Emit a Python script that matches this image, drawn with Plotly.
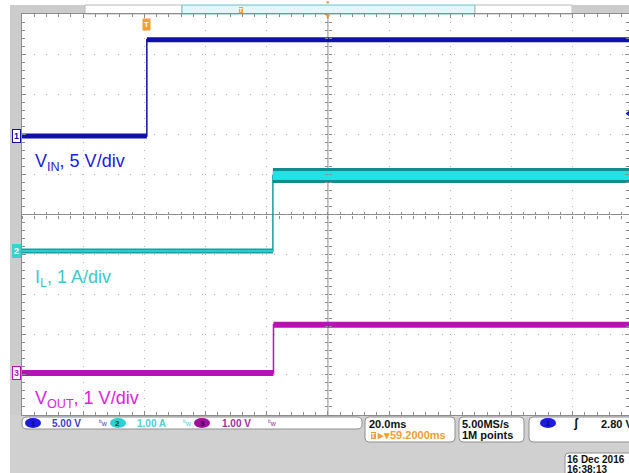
import plotly.graph_objects as go

# ---------------- data ----------------
channel_ids = ["1", "2", "3"]
channel_labels = ["V<sub>IN</sub>, 5 V/div", "I<sub>L</sub>, 1 A/div", "V<sub>OUT</sub>, 1 V/div"]
units_per_div = [5.0, 1.0, 1.0]          # V/div, A/div, V/div
offset_div = [1.96, -0.91, -3.95]        # ground marker position (divisions)
edge_ms = [0.0, 41.2, 41.4]              # time of the step
low_level = [0.0, 0.0, 0.0]
high_level = [12.0, 1.88, 1.2]
readouts = ["5.00 V", "1.00 A", "1.00 V"]

time_window_ms = [-40.8, 157.6]
ms_per_div = 20.0
h_delay_ms = 59.2
trigger_level_v = 2.80
timebase_text = "20.0ms"
delay_text = "59.2000ms"
sample_rate_text = "5.00MS/s"
record_text = "1M points"
trigger_text = "2.80 V"
date_text = "16 Dec 2016"
clock_text = "16:38:13"

# ---------------- styling ----------------
W, H = 629, 473
PL, PT, PR, PB = 22, 14, 629, 415          # plot area in pixels


def fx(px):
    return (px - PL) / (PR - PL)


def fy(py):
    return (PB - py) / (PB - PT)


trace_color = ["#1010a8", "#15a0a0", "#b414b4"]
label_color = ["#2020e0", "#3cc8cc", "#e020e0"]
readout_color = ["#3c3cc8", "#50d0d0", "#a030a0"]
chip_color = ["#1a1ae0", "#30d0d0", "#a010a0"]
ORANGE = "#f0a030"
GRID = "#b4b4b4"
AXIS = "#8c8c8c"
PANEL = "#cccccc"
FONT = "Liberation Sans"

fig = go.Figure()

for i in range(3):
    lo = offset_div[i] + low_level[i] / units_per_div[i]
    hi = offset_div[i] + high_level[i] / units_per_div[i]
    t0, t1, te = time_window_ms[0], time_window_ms[1], edge_ms[i]
    fig.add_trace(go.Scatter(x=[t0, te, t1], y=[lo, hi, hi], mode="lines",
                             line=dict(color=trace_color[i], width=1.5, shape="hv"),
                             hoverinfo="skip", showlegend=False))
    if i == 1:
        fig.add_trace(go.Scatter(x=[t0, te], y=[lo, lo], mode="lines",
                                 line=dict(color="#14a0a0", width=5),
                                 hoverinfo="skip", showlegend=False))
        fig.add_trace(go.Scatter(x=[t0, te], y=[lo, lo], mode="lines",
                                 line=dict(color="#3ad8d8", width=1.5),
                                 hoverinfo="skip", showlegend=False))
        fig.add_trace(go.Scatter(x=[te, t1], y=[hi, hi], mode="lines",
                                 line=dict(color="#128c8c", width=15),
                                 hoverinfo="skip", showlegend=False))
        fig.add_trace(go.Scatter(x=[te, t1], y=[hi, hi], mode="lines",
                                 line=dict(color="#1ee4e4", width=9),
                                 hoverinfo="skip", showlegend=False))
    else:
        fig.add_trace(go.Scatter(x=[t0, te, None, te, t1], y=[lo, lo, None, hi, hi],
                                 mode="lines",
                                 line=dict(color=trace_color[i], width=5 if i == 0 else 6),
                                 hoverinfo="skip", showlegend=False))

# trigger level marker on the right edge
fig.add_trace(go.Scatter(x=[time_window_ms[1]], y=[offset_div[0] + trigger_level_v / units_per_div[0]],
                         mode="markers", marker=dict(symbol="triangle-left", size=7, color="#1a1ae0"),
                         cliponaxis=False, hoverinfo="skip", showlegend=False))

# empty traces so the centre-crosshair tick axes are drawn
for xa, ya in [("x2", "y"), ("x3", "y"), ("x", "y2"), ("x", "y3")]:
    fig.add_trace(go.Scatter(x=[], y=[], xaxis=xa, yaxis=ya, hoverinfo="skip", showlegend=False))

center_ms = h_delay_ms
shapes = []
ann = []


def rect(x0, y0, x1, y1, fill, line=None, lw=1):
    shapes.append(dict(type="rect", xref="paper", yref="paper",
                       x0=fx(x0), x1=fx(x1), y0=fy(y1), y1=fy(y0),
                       fillcolor=fill, line=dict(color=line or fill, width=lw if line else 0),
                       layer="below"))


def rrect(x0, y0, x1, y1, r, fill, line):
    p = (f"M {fx(x0 + r)},{fy(y0)} L {fx(x1 - r)},{fy(y0)} Q {fx(x1)},{fy(y0)} {fx(x1)},{fy(y0 + r)} "
         f"L {fx(x1)},{fy(y1 - r)} Q {fx(x1)},{fy(y1)} {fx(x1 - r)},{fy(y1)} "
         f"L {fx(x0 + r)},{fy(y1)} Q {fx(x0)},{fy(y1)} {fx(x0)},{fy(y1 - r)} "
         f"L {fx(x0)},{fy(y0 + r)} Q {fx(x0)},{fy(y0)} {fx(x0 + r)},{fy(y0)} Z")
    shapes.append(dict(type="path", xref="paper", yref="paper", path=p,
                       fillcolor=fill, line=dict(color=line, width=1)))


def ellipse(x0, y0, x1, y1, fill):
    shapes.append(dict(type="circle", xref="paper", yref="paper",
                       x0=fx(x0), x1=fx(x1), y0=fy(y1), y1=fy(y0),
                       fillcolor=fill, line=dict(width=0)))


def text(x, y, s, color="#000000", size=11, anchor="left", bold=True, bg=None, border=None):
    ann.append(dict(xref="paper", yref="paper", x=fx(x), y=fy(y), xanchor=anchor, yanchor="middle",
                    text=f"<b>{s}</b>" if bold else s, showarrow=False,
                    font=dict(family=FONT, size=size, color=color),
                    bgcolor=bg, bordercolor=border, borderpad=0, borderwidth=1 if border else 0))


rect(10, 5, PL, PB, PANEL)                  # left strip
rect(10, PB, PR + 5, H + 5, "#d0d0d0")      # bottom panel
rect(10, 5, 85, PT, PANEL)                  # top bar
rect(85, 5, 182, PT, "#ffffff", "#b8b8b8")
rect(182, 5, 475, PT, "#e2f7fa", "#6cc0cc")
rect(475, 5, 572, PT, "#ffffff", "#b8b8b8")
rect(572, 5, PR + 5, PT, PANEL)

# centre crosshair
shapes.append(dict(type="line", xref="x", yref="paper", x0=center_ms, x1=center_ms, y0=0, y1=1,
                   line=dict(color=AXIS, width=1), layer="below"))
shapes.append(dict(type="line", xref="paper", yref="y", x0=0, x1=1, y0=0, y1=0,
                   line=dict(color=AXIS, width=1), layer="below"))

# ---- bottom readouts ----
rrect(22, 417, 362, 429, 5, "#ffffff", "#909090")
chip_x = [25, 110, 194]
val_x = [52, 137, 222]
bw_x = [99, 183, 268]
for i in range(3):
    ellipse(chip_x[i], 418, chip_x[i] + 16, 428, chip_color[i])
    text(chip_x[i] + 8, 423, channel_ids[i], "#101040" if i != 1 else "#0a4040", 8, anchor="center")
    text(val_x[i], 423, readouts[i], readout_color[i], 10)
    text(bw_x[i], 423, "<sup>b</sup>w", readout_color[i], 7, bold=False)

rrect(365, 417, 455, 442, 4, "#ffffff", "#909090")
text(369, 424, timebase_text, "#101010", 11)
text(373, 435, "T", "#ffffff", 7, anchor="center", bg=ORANGE)
text(377, 435, "▸▾" + delay_text, ORANGE, 11)

rrect(459, 417, 524, 442, 4, "#ffffff", "#909090")
text(462, 424, sample_rate_text, "#101010", 11)
text(462, 435, record_text, "#101010", 11)

rrect(529, 417, 650, 442, 4, "#ffffff", "#909090")
ellipse(540, 418, 556, 428, "#1a1ae0")
text(548, 423, channel_ids[0], "#101040", 8, anchor="center")
text(573, 423, "ʃ", "#101010", 12)
text(601, 424, trigger_text, "#101010", 11)

rrect(565, 453, 650, 480, 4, "#ffffff", "#909090")
text(567, 459, date_text, "#101010", 10)
text(567, 469, clock_text, "#101010", 10)

# ---- channel labels ----
label_y = [162, 278, 399]
for i in range(3):
    text(35, label_y[i], channel_labels[i], label_color[i], 18, bold=False)

# ground markers on the left
for i in range(3):
    ann.append(dict(xref="paper", yref="y", x=fx(16), y=offset_div[i], xanchor="center", yanchor="middle",
                    text=f"<b>{channel_ids[i]}</b>", showarrow=False,
                    font=dict(family=FONT, size=9, color="#ffffff" if i == 1 else trace_color[i]),
                    bgcolor="#3ad0d0" if i == 1 else "#ffffff",
                    bordercolor=trace_color[i] if i != 1 else "#3ad0d0", borderwidth=1, borderpad=1))

# trigger position / expansion markers
ann.append(dict(xref="x", yref="paper", x=0.0, y=fy(24), xanchor="center", yanchor="middle",
                text="<b>T</b>", showarrow=False, font=dict(family=FONT, size=8, color="#ffffff"),
                bgcolor=ORANGE, borderpad=1))
text(241, 10, "T", "#ffffff", 6, anchor="center", bg=ORANGE)
ann.append(dict(xref="x", yref="paper", x=center_ms, y=fy(16), xanchor="center", yanchor="middle",
                text="▼", showarrow=False, font=dict(family=FONT, size=8, color=ORANGE)))
ann.append(dict(xref="x", yref="paper", x=center_ms, y=fy(2), xanchor="center", yanchor="middle",
                text="●", showarrow=False, font=dict(family=FONT, size=6, color=ORANGE)))

tick_common = dict(showgrid=False, showticklabels=False, zeroline=False, ticklen=3,
                   tickcolor=AXIS, showline=False)
ypos_center = (center_ms - time_window_ms[0]) / (time_window_ms[1] - time_window_ms[0])

fig.update_layout(
    width=W, height=H,
    margin=dict(l=PL, r=W - PR, t=PT, b=H - PB, pad=0),
    paper_bgcolor="#ffffff", plot_bgcolor="#ffffff",
    showlegend=False,
    shapes=shapes, annotations=ann,
    xaxis=dict(range=time_window_ms, tick0=time_window_ms[0], dtick=ms_per_div,
               showgrid=True, gridcolor=GRID, griddash="1px,7px", gridwidth=1,
               showline=True, linecolor=AXIS, mirror="ticks", ticks="inside", ticklen=4,
               tickcolor=AXIS, showticklabels=False, zeroline=False,
               minor=dict(tick0=time_window_ms[0], dtick=ms_per_div / 5, ticks="inside",
                          ticklen=3, tickcolor=AXIS, showgrid=False)),
    yaxis=dict(range=[-5, 5], tick0=-5, dtick=1,
               showgrid=True, gridcolor=GRID, griddash="1px,11px", gridwidth=1,
               showline=True, linecolor=AXIS, mirror="ticks", ticks="inside", ticklen=4,
               tickcolor=AXIS, showticklabels=False, zeroline=False,
               minor=dict(tick0=-5, dtick=0.2, ticks="inside", ticklen=3, tickcolor=AXIS,
                          showgrid=False)),
    xaxis2=dict(overlaying="x", matches="x", anchor="free", position=0.5, ticks="inside",
                tick0=time_window_ms[0], dtick=ms_per_div / 5, **tick_common),
    xaxis3=dict(overlaying="x", matches="x", anchor="free", position=0.5, ticks="outside",
                tick0=time_window_ms[0], dtick=ms_per_div / 5, **tick_common),
    yaxis2=dict(overlaying="y", matches="y", anchor="free", position=ypos_center,
                ticks="inside", tick0=-5, dtick=0.2, **tick_common),
    yaxis3=dict(overlaying="y", matches="y", anchor="free", position=ypos_center,
                ticks="outside", tick0=-5, dtick=0.2, **tick_common),
)

fig.write_html("out.html", config={"displayModeBar": False},
               post_script="document.body.style.margin='0';document.body.style.overflow='hidden';")
